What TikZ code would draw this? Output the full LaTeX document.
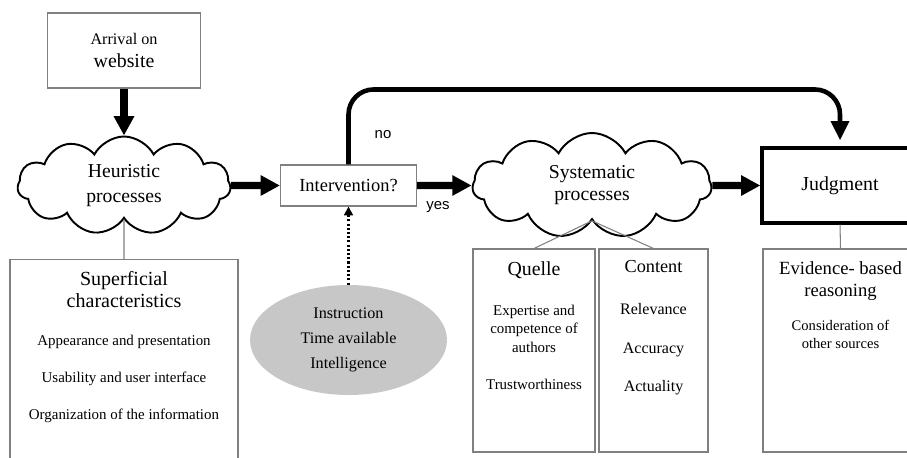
\documentclass[tikz,border=0pt]{standalone}
\usepackage{fontspec}
\setmainfont{Liberation Serif}
\newfontfamily\labelfont{Liberation Sans}
\usetikzlibrary{shapes.symbols, shapes.geometric, arrows.meta, positioning}

\begin{document}
\begin{tikzpicture}[
        box/.style={rectangle, draw=gray, line width=0.6pt, inner sep=0pt, align=center},
        cloudbox/.style={cloud, cloud puffs=11, cloud puff arc=125, aspect=2.2, draw, line width=1.1pt, fill=white, inner sep=0pt, align=center},
        title/.style={align=center, inner sep=0pt, anchor=north},
        items/.style={align=center, inner sep=0pt, anchor=north},
        bigarrow/.style={-{Triangle[length=11pt, width=11pt]}, line width=4pt},
        noarrow/.style={-{Triangle[length=11pt, width=10pt]}, line width=2.6pt, rounded corners=0.5cm},
        link/.style={draw=gray, line width=0.6pt},
        lbl/.style={font=\labelfont\fontsize{8.5}{10}\selectfont, inner sep=0pt}
    ]
        \useasboundingbox (0,0) rectangle (18.14,9.14);

        % Entry
        \node[box, minimum width=3.06cm, minimum height=1.5cm, font=\fontsize{9.2}{13}\selectfont] (arrive) at (2.48, 8.13) {Arrival on\\{\fontsize{11.3}{13}\selectfont website}};

        % Processing row - all centered at y=5.43
        \node[cloudbox, minimum width=4.26cm, minimum height=1.96cm, font=\fontsize{11.2}{14}\selectfont] (heur) at (2.48, 5.43) {Heuristic\\processes};
        \node[box, minimum width=2.72cm, minimum height=0.82cm, font=\fontsize{10.5}{12}\selectfont] (interv) at (6.97, 5.43) {Intervention?};
        \node[cloudbox, minimum width=4.78cm, minimum height=2.1cm, font=\fontsize{11.2}{12.5}\selectfont] (syst) at (11.84, 5.43) {Systematic\\processes};
        \node[box, draw=black, line width=1.8pt, minimum width=3.12cm, minimum height=1.5cm, font=\fontsize{11.3}{13}\selectfont] (judg) at (16.8, 5.43) {Judgment};

        % Moderating factors
        \node[ellipse, fill=black!22, minimum width=3.94cm, minimum height=2.2cm, align=center, font=\fontsize{9.2}{14.2}\selectfont] (factors) at (6.97, 2.34) {Instruction\\Time available\\Intelligence};

        % Characteristics boxes
        \node[box, minimum width=4.56cm, minimum height=4.4cm, anchor=north] (superf) at (2.48, 3.96) {};
        \node[box, minimum width=2.44cm, minimum height=4.06cm] (quelle) at (10.68, 2.13) {};
        \node[box, minimum width=2.18cm, minimum height=4.06cm] (content) at (13.07, 2.13) {};
        \node[box, minimum width=3.1cm, minimum height=4.06cm] (evid) at (16.81, 2.13) {};

        % Box texts
        \node[title, font=\fontsize{11.4}{12.5}\selectfont] (superft) at ([yshift=-0.24cm]superf.north) {Superficial\\characteristics};
        \node[items, font=\fontsize{8.5}{21}\selectfont] (superfi) at ([yshift=-1.52cm]superf.north) {Appearance and presentation\\Usability and user interface\\Organization of the information};
        \node[title, font=\fontsize{11.3}{12.5}\selectfont] (quellet) at ([yshift=-0.25cm]quelle.north) {Quelle};
        \node[items, font=\fontsize{8.5}{10.5}\selectfont] (quellei) at ([yshift=-1.12cm]quelle.north) {Expertise and\\competence of\\authors\\[11pt]Trustworthiness};
        \node[title, font=\fontsize{10.4}{12.5}\selectfont] (contentt) at ([yshift=-0.24cm]content.north) {Content};
        \node[items, font=\fontsize{9.1}{21.8}\selectfont] (contenti) at ([yshift=-1.1cm]content.north) {Relevance\\Accuracy\\Actuality};
        \node[title, font=\fontsize{10.6}{12.5}\selectfont] (evidt) at ([yshift=-0.26cm]evid.north) {Evidence- based\\reasoning};
        \node[items, font=\fontsize{8.3}{10.2}\selectfont] (evidi) at ([yshift=-1.42cm]evid.north) {Consideration of\\other sources};

        % Branch labels
        \node[lbl] (nolbl) at (7.66, 6.44) {no};
        \node[lbl] (yeslbl) at (8.76, 5.0) {yes};

        % Main flow
        \draw[bigarrow] (arrive) -- (heur);
        \draw[bigarrow] (heur) -- (interv);
        \draw[bigarrow] (interv) -- (syst);
        \draw[bigarrow] (syst) -- (judg);
        \draw[noarrow] (interv.north) -- ++(0, 1.5) -| ([yshift=0.12cm]judg.north);
        \draw[-{Triangle[length=5pt, width=5pt]}, line width=1.2pt, dash pattern=on 1.2pt off 1.2pt] (factors) -- (interv);

        % Links to characteristics
        \draw[link] (heur.south) -- (superf.north);
        \draw[link] (syst.south) -- (quelle.north);
        \draw[link] (syst.south) -- (content.north);
        \draw[link] (judg.south) -- (evid.north);
    \end{tikzpicture}
\end{document}
